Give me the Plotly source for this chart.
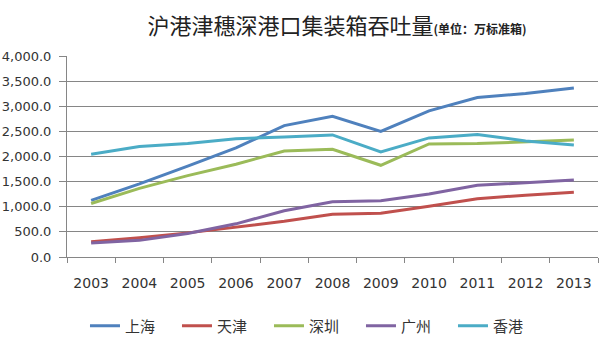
import plotly.graph_objects as go

years = ["2003", "2004", "2005", "2006", "2007", "2008", "2009", "2010", "2011", "2012", "2013"]
shanghai = [1128, 1455, 1808, 2171, 2615, 2800, 2500, 2907, 3174, 3253, 3362]
tianjin = [302, 382, 480, 595, 710, 850, 870, 1009, 1159, 1230, 1290]
shenzhen = [1065, 1365, 1620, 1847, 2110, 2142, 1825, 2251, 2257, 2294, 2328]
guangzhou = [277, 331, 468, 660, 920, 1100, 1119, 1255, 1426, 1474, 1531]
hongkong = [2045, 2198, 2260, 2354, 2388, 2430, 2090, 2370, 2440, 2310, 2230]

series = [
    ("上海", shanghai, "#4F81BD"),
    ("天津", tianjin, "#C0504D"),
    ("深圳", shenzhen, "#9BBB59"),
    ("广州", guangzhou, "#8064A2"),
    ("香港", hongkong, "#4BACC6"),
]

fig = go.Figure()
for name, vals, col in series:
    fig.add_trace(go.Scatter(x=years, y=vals, name=name, mode="lines",
                             line=dict(color=col, width=3)))

num_font = dict(family="DejaVu Sans, Verdana, sans-serif", size=14, color="#333333")
y_font = dict(family="DejaVu Sans, Verdana, sans-serif", size=13, color="#333333")
fig.update_layout(
    width=604, height=340,
    margin=dict(l=67, r=6, t=56, b=83),
    paper_bgcolor="white", plot_bgcolor="white",
    title=dict(
        text="沪港津穗深港口集装箱吞吐量<span style='font-size:12px;font-weight:bold'>(单位：万标准箱)</span>",
        x=0.558, xref="container", xanchor="center",
        y=1 - 26 / 340, yref="container", yanchor="middle",
        font=dict(family="Noto Sans CJK SC", size=22, color="#222222"),
    ),
    xaxis=dict(
        type="category", range=[-0.5, len(years) - 0.5], automargin=False,
        tickson="boundaries", ticks="outside", ticklen=5,
        tickcolor="#868686", showline=True, linecolor="#868686", linewidth=1,
        showgrid=False, tickfont=num_font, ticklabelstandoff=13,
    ),
    yaxis=dict(
        range=[0, 4000], dtick=500, tickformat=",.1f", ticks="outside", ticklen=7,
        tickcolor="#868686", showline=True, linecolor="#868686", linewidth=1,
        showgrid=True, gridcolor="#868686", gridwidth=1, zeroline=False,
        tickfont=y_font, ticklabelstandoff=5, automargin=False,
    ),
    legend=dict(
        orientation="h", x=0.5215, xref="container", xanchor="center",
        y=1 - 326 / 340, yref="container", yanchor="middle",
        entrywidth=47, entrywidthmode="pixels",
        font=dict(family="Noto Sans CJK SC", size=15, color="#333333"),
    ),
    showlegend=True,
)

fig.write_html("out.html")
